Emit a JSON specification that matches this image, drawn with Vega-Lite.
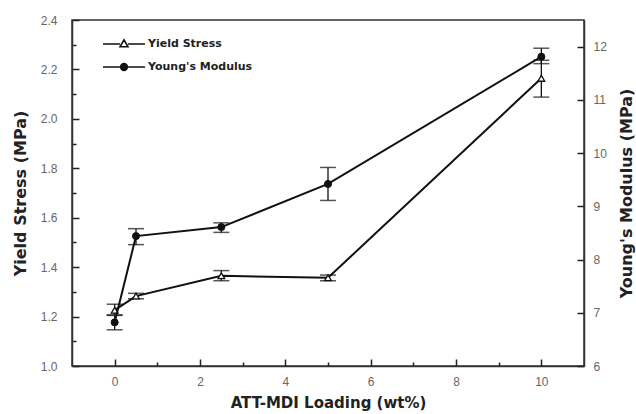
{
  "$schema": "https://vega.github.io/schema/vega-lite/v6.json",
  "width": 512,
  "height": 346,
  "autosize": {"type": "none"},
  "padding": {"left": 72, "top": 20, "right": 52, "bottom": 48},
  "background": "white",
  "config": {
    "view": {"stroke": "#333", "strokeWidth": 1.5},
    "axis": {
      "grid": false,
      "ticks": true,
      "domainColor": "#333",
      "domainWidth": 1.5,
      "tickColor": "#222",
      "tickOpacity": 1,
      "tickWidth": 1.5,
      "labelColor": "#666",
      "labelFont": "Liberation Sans",
      "labelFontSize": 12,
      "titleFont": "DejaVu Sans",
      "titleFontWeight": "bold",
      "titleColor": "#222"
    }
  },
  "data": {
    "values": [
      {"series": "Yield Stress", "x": 0, "y": 1.226, "lo": 1.207, "hi": 1.25},
      {"series": "Yield Stress", "x": 0.5, "y": 1.283, "lo": 1.272, "hi": 1.294},
      {"series": "Yield Stress", "x": 2.5, "y": 1.365, "lo": 1.345, "hi": 1.386},
      {"series": "Yield Stress", "x": 5, "y": 1.357, "lo": 1.345, "hi": 1.368},
      {"series": "Yield Stress", "x": 10, "y": 2.164, "lo": 2.088, "hi": 2.237},
      {"series": "Young's Modulus", "x": 0, "y": 6.82, "lo": 6.68, "hi": 6.95},
      {"series": "Young's Modulus", "x": 0.5, "y": 8.44, "lo": 8.28, "hi": 8.58},
      {"series": "Young's Modulus", "x": 2.5, "y": 8.61, "lo": 8.51, "hi": 8.69},
      {"series": "Young's Modulus", "x": 5, "y": 9.42, "lo": 9.11, "hi": 9.73},
      {"series": "Young's Modulus", "x": 10, "y": 11.81, "lo": 11.68, "hi": 11.97}
    ]
  },
  "encoding": {
    "x": {
      "field": "x",
      "type": "quantitative",
      "scale": {"domain": [-1, 11], "nice": false, "zero": false},
      "axis": {
        "title": "ATT-MDI Loading (wt%)",
        "titleFontSize": 15,
        "titlePadding": 8,
        "values": [0, 1, 2, 3, 4, 5, 6, 7, 8, 9, 10],
        "ticks": true,
        "tickSize": {"condition": {"test": "datum.value % 2 === 1", "value": -4}, "value": -7},
        "labelExpr": "datum.value % 2 === 0 ? datum.label : ''",
        "labelPadding": 17
      }
    }
  },
  "layer": [
    {
      "transform": [{"filter": "datum.series === 'Yield Stress'"}],
      "encoding": {
        "y": {
          "field": "y",
          "type": "quantitative",
          "title": "Yield Stress (MPa)",
          "scale": {"domain": [1, 2.4], "nice": false, "zero": false},
          "axis": {
            "orient": "left",
            "ticks": true,
            "titleFontSize": 16,
            "titlePadding": 12,
            "values": [1, 1.1, 1.2, 1.3, 1.4, 1.5, 1.6, 1.7, 1.8, 1.9, 2, 2.1, 2.2, 2.3, 2.4],
            "format": ".1f",
            "tickSize": {"condition": {"test": "round(datum.value * 10) % 2 === 1", "value": -4}, "value": -7},
            "labelExpr": "round(datum.value * 10) % 2 === 0 ? datum.label : ''",
            "labelPadding": 22
          }
        }
      },
      "layer": [
        {"mark": {"type": "line", "color": "#111", "strokeWidth": 2}},
        {
          "mark": {"type": "rule", "color": "#111", "strokeWidth": 1.3},
          "encoding": {
            "y": {"field": "lo", "type": "quantitative", "title": "Yield Stress (MPa)"},
            "y2": {"field": "hi"}
          }
        },
        {
          "mark": {"type": "tick", "orient": "horizontal", "color": "#111", "thickness": 1.5, "size": 16},
          "encoding": {"y": {"field": "lo", "type": "quantitative", "title": "Yield Stress (MPa)"}}
        },
        {
          "mark": {"type": "tick", "orient": "horizontal", "color": "#111", "thickness": 1.5, "size": 16},
          "encoding": {"y": {"field": "hi", "type": "quantitative", "title": "Yield Stress (MPa)"}}
        },
        {
          "mark": {"type": "point", "shape": "triangle-up", "filled": true, "fill": "white", "stroke": "#111", "strokeWidth": 1.3, "size": 45, "opacity": 1}
        }
      ]
    },
    {
      "transform": [{"filter": "datum.series === \"Young's Modulus\""}],
      "encoding": {
        "y": {
          "field": "y",
          "type": "quantitative",
          "title": "Young's Modulus (MPa)",
          "scale": {"domain": [6, 12.5], "nice": false, "zero": false},
          "axis": {
            "orient": "right",
            "ticks": true,
            "titleFontSize": 16,
            "titleAngle": 270,
            "titlePadding": 28,
            "values": [6, 6.5, 7, 7.5, 8, 8.5, 9, 9.5, 10, 10.5, 11, 11.5, 12],
            "format": "d",
            "tickSize": {"condition": {"test": "datum.value % 1 !== 0", "value": -4}, "value": -7},
            "labelExpr": "datum.value % 1 === 0 ? datum.label : ''",
            "labelPadding": 16
          }
        }
      },
      "layer": [
        {"mark": {"type": "line", "color": "#111", "strokeWidth": 2}},
        {
          "mark": {"type": "rule", "color": "#111", "strokeWidth": 1.3},
          "encoding": {
            "y": {"field": "lo", "type": "quantitative", "title": "Young's Modulus (MPa)"},
            "y2": {"field": "hi"}
          }
        },
        {
          "mark": {"type": "tick", "orient": "horizontal", "color": "#111", "thickness": 1.5, "size": 16},
          "encoding": {"y": {"field": "lo", "type": "quantitative", "title": "Young's Modulus (MPa)"}}
        },
        {
          "mark": {"type": "tick", "orient": "horizontal", "color": "#111", "thickness": 1.5, "size": 16},
          "encoding": {"y": {"field": "hi", "type": "quantitative", "title": "Young's Modulus (MPa)"}}
        },
        {
          "mark": {"type": "point", "shape": "circle", "filled": true, "fill": "#111", "stroke": "#111", "strokeWidth": 1, "size": 50, "opacity": 1}
        }
      ]
    },
    {
      "mark": {"type": "point", "filled": false, "opacity": 0},
      "encoding": {
        "shape": {
          "field": "series",
          "type": "nominal",
          "scale": {
            "domain": ["Yield Stress", "Young's Modulus"],
            "range": [
              "M-1,0H-0.19M0.19,0H1M0,-0.2L0.19,0.13L-0.19,0.13Z",
              "M-1,0H1M-0.03,0A0.03,0.03,0,1,0,0.03,0A0.03,0.03,0,1,0,-0.03,0ZM-0.075,0A0.075,0.075,0,1,0,0.075,0A0.075,0.075,0,1,0,-0.075,0ZM-0.12,0A0.12,0.12,0,1,0,0.12,0A0.12,0.12,0,1,0,-0.12,0ZM-0.16,0A0.16,0.16,0,1,0,0.16,0A0.16,0.16,0,1,0,-0.16,0Z"
            ]
          },
          "legend": {
            "orient": "none",
            "legendX": 30,
            "legendY": 13,
            "title": null,
            "padding": 0,
            "symbolSize": 1764,
            "symbolOpacity": 1,
            "symbolFillColor": "white",
            "symbolStrokeColor": "#111",
            "symbolStrokeWidth": 1.6,
            "labelFont": "DejaVu Sans",
            "labelFontWeight": "bold",
            "labelFontSize": 11,
            "labelColor": "#222",
            "labelOffset": 2,
            "clipHeight": 22,
            "rowPadding": 1
          }
        }
      }
    }
  ],
  "resolve": {"scale": {"y": "independent"}}
}
